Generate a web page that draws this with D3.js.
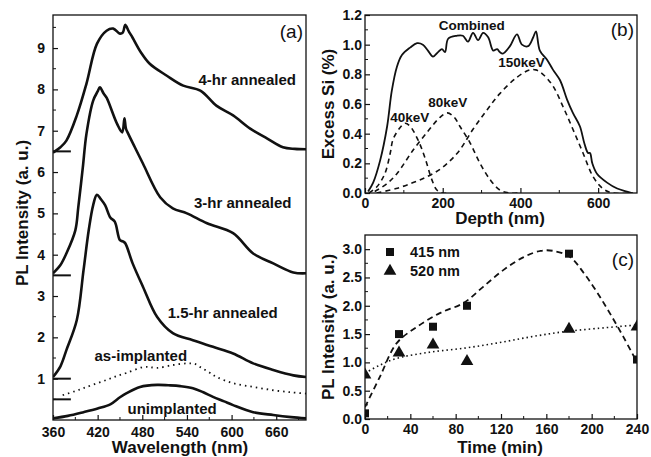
<!DOCTYPE html>
<html>
<head>
<meta charset="utf-8">
<script src="https://cdn.jsdelivr.net/npm/d3@7"></script>
<style>
  body { margin: 0; background: #fff; }
  text { font-family: "Liberation Sans", Arial, sans-serif; fill: #111; }
</style>
</head>
<body>
<svg id="chart" width="651" height="457"></svg>
<script>
// ---- panel (a): PL spectra, offset curves [wavelength nm, intensity]
const pl4hr = [[360,6.47],[370,6.6],[378,6.76],[392,7.37],[405,8.14],[419,9.1],[432,9.42],[441,9.47],[450,9.35],[454,9.38],[457,9.56],[462,9.4],[467,9.25],[478,8.9],[490,8.62],[513,8.33],[535,8.09],[558,7.97],[580,7.6],[602,7.37],[625,7.05],[648,6.81],[669,6.6],[685,6.56],[700,6.55]];
const pl3hr = [[360,3.55],[370,3.75],[378,4.03],[390,4.59],[394,5.15],[400,6.1],[405,6.93],[414,7.73],[420,7.95],[423,8.05],[428,7.9],[432,7.8],[446,7.17],[453,6.96],[456,7.3],[458,7.05],[461,6.93],[470,6.6],[481,6.2],[504,5.39],[521,5.12],[540,5.0],[567,4.76],[602,4.52],[629,4.03],[656,3.79],[683,3.57],[700,3.55]];
const pl15hr = [[360,1.04],[370,1.3],[378,1.69],[392,2.42],[401,3.62],[408,4.59],[414,5.2],[419,5.45],[424,5.35],[430,5.2],[437,4.9],[443,4.8],[450,4.35],[454,4.32],[457,4.28],[467,3.79],[481,3.22],[500,2.49],[521,2.1],[548,1.93],[575,1.77],[602,1.61],[629,1.37],[656,1.21],[683,1.08],[700,1.04]];
const plAsImpl = [[373,0.6],[390,0.7],[401,0.77],[416,0.87],[432,0.97],[445,1.06],[459,1.14],[481,1.28],[490,1.28],[500,1.26],[521,1.33],[540,1.37],[550,1.36],[558,1.28],[570,1.15],[580,1.04],[602,0.89],[629,0.8],[656,0.72],[680,0.67],[700,0.64]];
const plUnimpl = [[360,0.04],[380,0.1],[401,0.19],[420,0.28],[437,0.38],[450,0.55],[459,0.65],[477,0.8],[500,0.85],[515,0.84],[531,0.82],[548,0.77],[562,0.67],[575,0.56],[590,0.45],[602,0.36],[629,0.19],[656,0.12],[680,0.07],[700,0.04]];
const plBaselines = [6.5, 3.5, 1.0, 0.5];
const plLabels = [
  {text: "4-hr annealed", w: 621, v: 8.25},
  {text: "3-hr annealed", w: 615, v: 5.27},
  {text: "1.5-hr annealed", w: 588, v: 2.59},
  {text: "as-implanted", w: 478, v: 1.57},
  {text: "unimplanted", w: 520, v: 0.29}
];
const plXTicks = [360, 420, 480, 540, 600, 660];
const plYTicks = [1, 2, 3, 4, 5, 6, 7, 8, 9];

// ---- panel (b): excess Si depth profile [depth nm, %]
const combined = [[8,0.01],[21,0.07],[39,0.22],[57,0.45],[69,0.69],[82,0.85],[95,0.93],[116,0.98],[134,1.01],[149,1.0],[162,0.96],[175,0.92],[188,0.95],[198,0.97],[206,0.95],[214,1.04],[236,1.06],[252,1.06],[265,1.02],[278,1.08],[291,1.03],[304,1.08],[317,1.05],[330,0.96],[340,0.97],[347,0.95],[355,0.94],[373,0.99],[391,1.07],[404,1.0],[420,0.99],[433,1.05],[440,1.09],[450,0.96],[468,0.9],[484,0.83],[502,0.76],[520,0.63],[535,0.54],[553,0.45],[565,0.33],[574,0.27],[579,0.27],[585,0.2],[597,0.13],[623,0.07],[649,0.03],[674,0.01],[687,0.0]];
const kev40 = [[10,0.0],[30,0.04],[51,0.13],[65,0.27],[72,0.36],[90,0.44],[103,0.47],[116,0.45],[136,0.36],[154,0.24],[172,0.09],[185,0.02],[200,0.0],[220,0.0]];
const kev80 = [[25,0.01],[55,0.06],[82,0.13],[124,0.29],[160,0.41],[193,0.51],[212,0.54],[230,0.51],[244,0.45],[270,0.34],[296,0.2],[322,0.09],[347,0.02],[373,0.0],[400,0.0]];
const kev150 = [[30,0.0],[80,0.03],[124,0.07],[160,0.11],[193,0.16],[220,0.22],[244,0.29],[278,0.43],[314,0.56],[347,0.67],[391,0.78],[424,0.83],[440,0.83],[458,0.8],[484,0.72],[510,0.58],[535,0.43],[561,0.27],[587,0.11],[612,0.03],[638,0.0],[690,0.0]];
const depthLabels = [
  {text: "Combined", d: 275, v: 1.13},
  {text: "40keV", d: 115, v: 0.51},
  {text: "80keV", d: 213, v: 0.61},
  {text: "150keV", d: 403, v: 0.88}
];
const depthXTicks = [0, 200, 400, 600];
const depthYTicks = [0, 0.2, 0.4, 0.6, 0.8, 1.0, 1.2];

// ---- panel (c): PL intensity vs anneal time
const times = [0, 30, 60, 90, 180, 240];
const pl415 = [0.1, 1.5, 1.63, 2.0, 2.92, 1.05];
const pl520 = [0.78, 1.17, 1.31, 1.02, 1.59, 1.63];
const fit415 = [[0,0.21],[13,0.74],[28,1.34],[46,1.63],[66,1.87],[87,2.05],[104,2.33],[122,2.63],[140,2.86],[155,2.97],[166,2.97],[181,2.86],[193,2.58],[205,2.23],[216,1.87],[228,1.45],[240,1.0]];
const fit520 = [[0,0.81],[13,0.95],[28,1.07],[57,1.18],[87,1.25],[116,1.34],[146,1.45],[175,1.54],[205,1.6],[240,1.66]];
const timeXTicks = [0, 40, 80, 120, 160, 200, 240];
const timeYTicks = [0, 0.5, 1.0, 1.5, 2.0, 2.5, 3.0];

const svg = d3.select("#chart");

function frame(id, x, y, xt, yt, xMinor, yMinor, xfmt, yfmt, xPad, yPad) {
  const [x0, x1] = x.range(), [y1, y0] = y.range();
  const g = svg.append("g");
  g.append("clipPath").attr("id", id).append("rect")
    .attr("x", x0).attr("y", y0).attr("width", x1 - x0).attr("height", y1 - y0);
  // minor ticks
  g.selectAll(".mx").data(xMinor).join("line")
    .attr("x1", d => x(d)).attr("x2", d => x(d)).attr("y1", y1).attr("y2", y1 - 3)
    .attr("stroke", "#111").attr("stroke-width", 1);
  g.selectAll(".my").data(yMinor).join("line")
    .attr("y1", d => y(d)).attr("y2", d => y(d)).attr("x1", x0).attr("x2", x0 + 3)
    .attr("stroke", "#111").attr("stroke-width", 1);
  const ax = g.append("g").attr("transform", `translate(0,${y1})`)
    .call(d3.axisBottom(x).tickValues(xt).tickSize(-5).tickPadding(xPad).tickFormat(xfmt));
  const ay = g.append("g").attr("transform", `translate(${x0},0)`)
    .call(d3.axisLeft(y).tickValues(yt).tickSize(-5).tickPadding(yPad).tickFormat(yfmt));
  [ax, ay].forEach(a => {
    a.select(".domain").remove();
    a.selectAll("line").attr("stroke", "#111").attr("stroke-width", 1.2);
    a.selectAll("text").attr("font-size", 14).attr("font-weight", "bold")
      .attr("font-family", "Liberation Sans, Arial, sans-serif").attr("fill", "#111");
  });
  g.append("rect").attr("x", x0).attr("y", y0).attr("width", x1 - x0).attr("height", y1 - y0)
    .attr("fill", "none").attr("stroke", "#111").attr("stroke-width", 1.3);
  return g;
}

function title(txt, x, y, rot, size) {
  svg.append("text").attr("transform", `translate(${x},${y}) rotate(${rot})`)
    .attr("text-anchor", "middle").attr("dominant-baseline", "central")
    .attr("font-size", size).attr("font-weight", "bold").text(txt);
}

function tag(txt, x, y) {
  svg.append("text").attr("x", x).attr("y", y).attr("text-anchor", "end")
    .attr("font-size", 19).text(txt);
}

// ================= (a)
const xa = d3.scaleLinear().domain([360, 700]).range([53, 306]);
const ya = d3.scaleLinear().domain([0, 9.8]).range([420, 15]);
frame("clipA", xa, ya, plXTicks, plYTicks, d3.range(390, 700, 60), d3.range(0.5, 9.8, 1),
  d3.format("d"), d3.format("d"), 7, 8);
const la = d3.line().x(d => xa(d[0])).y(d => ya(d[1])).curve(d3.curveCatmullRom);
const gA = svg.append("g").attr("clip-path", "url(#clipA)");
[pl4hr, pl3hr, pl15hr, plUnimpl].forEach(s => {
  gA.append("path").datum(s).attr("d", la).attr("fill", "none")
    .attr("stroke", "#111").attr("stroke-width", 2.6).attr("stroke-linejoin", "round");
});
gA.append("path").datum(plAsImpl).attr("d", la).attr("fill", "none")
  .attr("stroke", "#111").attr("stroke-width", 1.8).attr("stroke-dasharray", "1.5,4");
gA.selectAll(".base").data(plBaselines).join("line")
  .attr("x1", xa(360)).attr("x2", xa(384)).attr("y1", d => ya(d)).attr("y2", d => ya(d))
  .attr("stroke", "#111").attr("stroke-width", 2);
svg.selectAll(".plLab").data(plLabels).join("text")
  .attr("x", d => xa(d.w)).attr("y", d => ya(d.v)).attr("text-anchor", "middle")
  .attr("dominant-baseline", "central").attr("font-size", 15).attr("font-weight", "bold")
  .text(d => d.text);
title("PL Intensity (a. u.)", 22, 213, -90, 17);
title("Wavelength (nm)", 180, 447, 0, 17);
tag("(a)", 303, 38);

// ================= (b)
const xb = d3.scaleLinear().domain([0, 700]).range([365, 637]);
const yb = d3.scaleLinear().domain([0, 1.2]).range([193, 15]);
frame("clipB", xb, yb, depthXTicks, depthYTicks, d3.range(100, 700, 200), d3.range(0.1, 1.2, 0.2),
  d3.format("d"), d3.format(".1f"), 5, 3);
const lb = d3.line().x(d => xb(d[0])).y(d => yb(d[1])).curve(d3.curveCatmullRom);
const gB = svg.append("g").attr("clip-path", "url(#clipB)");
gB.append("path").datum(combined).attr("d", lb).attr("fill", "none")
  .attr("stroke", "#111").attr("stroke-width", 1.8);
[kev40, kev80, kev150].forEach(s => {
  gB.append("path").datum(s).attr("d", lb).attr("fill", "none")
    .attr("stroke", "#111").attr("stroke-width", 1.6).attr("stroke-dasharray", "5,4");
});
svg.selectAll(".dLab").data(depthLabels).join("text")
  .attr("x", d => xb(d.d)).attr("y", d => yb(d.v)).attr("text-anchor", "middle")
  .attr("dominant-baseline", "central").attr("font-size", 13.5).attr("font-weight", "bold")
  .text(d => d.text);
title("Excess Si (%)", 328, 104, -90, 17);
title("Depth (nm)", 500, 218, 0, 17);
tag("(b)", 634, 36);

// ================= (c)
const xc = d3.scaleLinear().domain([0, 240]).range([365, 637]);
const yc = d3.scaleLinear().domain([0, 3.25]).range([419, 235]);
frame("clipC", xc, yc, timeXTicks, timeYTicks, d3.range(20, 240, 40), d3.range(0.25, 3.25, 0.5),
  d3.format("d"), d3.format(".1f"), 5, 3);
const lc = d3.line().x(d => xc(d[0])).y(d => yc(d[1])).curve(d3.curveCatmullRom);
const gC = svg.append("g").attr("clip-path", "url(#clipC)");
gC.append("path").datum(fit415).attr("d", lc).attr("fill", "none")
  .attr("stroke", "#111").attr("stroke-width", 1.8).attr("stroke-dasharray", "6,4");
gC.append("path").datum(fit520).attr("d", lc).attr("fill", "none")
  .attr("stroke", "#111").attr("stroke-width", 1.6).attr("stroke-dasharray", "1.5,3");
const sq = d3.symbol().type(d3.symbolSquare).size(64);
const tri = d3.symbol().type(d3.symbolTriangle).size(70);
gC.selectAll(".sq").data(times).join("path")
  .attr("d", sq).attr("transform", (d, i) => `translate(${xc(d)},${yc(pl415[i])})`).attr("fill", "#111");
gC.selectAll(".tri").data(times).join("path")
  .attr("d", tri).attr("transform", (d, i) => `translate(${xc(d)},${yc(pl520[i])})`).attr("fill", "#111");
// legend
const leg = svg.append("g");
leg.append("path").attr("d", sq).attr("transform", "translate(390,252)").attr("fill", "#111");
leg.append("path").attr("d", tri).attr("transform", "translate(390,271)").attr("fill", "#111");
leg.append("text").attr("x", 410).attr("y", 252).attr("dominant-baseline", "central")
  .attr("font-size", 14.5).attr("font-weight", "bold").text("415 nm");
leg.append("text").attr("x", 410).attr("y", 271).attr("dominant-baseline", "central")
  .attr("font-size", 14.5).attr("font-weight", "bold").text("520 nm");
title("PL Intensity (a. u.)", 328, 327, -90, 17);
title("Time (min)", 500, 447, 0, 17);
tag("(c)", 634, 266);
</script>
</body>
</html>
